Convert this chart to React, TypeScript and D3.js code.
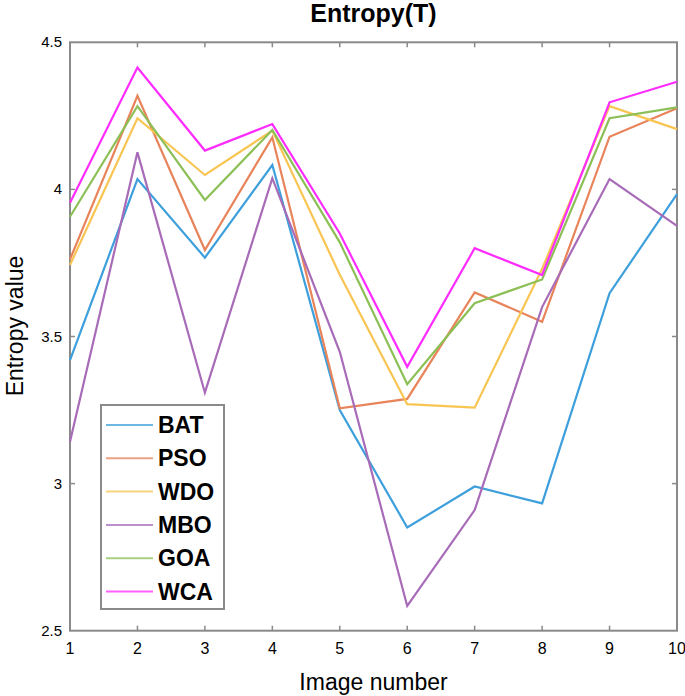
import React from "react";
import * as d3 from "d3";

const imageNumbers = [1, 2, 3, 4, 5, 6, 7, 8, 9, 10];
const seriesNames = ["BAT", "PSO", "WDO", "MBO", "GOA", "WCA"];
const BAT = [3.42, 4.035, 3.768, 4.083, 3.25, 2.851, 2.99, 2.933, 3.647, 3.984];
const PSO = [3.762, 4.318, 3.794, 4.177, 3.256, 3.288, 3.65, 3.55, 4.179, 4.276];
const WDO = [3.743, 4.242, 4.049, 4.2, 3.71, 3.27, 3.258, 3.73, 4.283, 4.205];
const MBO = [3.142, 4.126, 3.309, 4.038, 3.448, 2.584, 2.91, 3.6, 4.035, 3.876];
const GOA = [3.907, 4.283, 3.964, 4.202, 3.82, 3.338, 3.613, 3.694, 4.242, 4.279];
const WCA = [3.955, 4.414, 4.132, 4.222, 3.85, 3.397, 3.8, 3.709, 4.296, 4.366];
const yTicks = [2.5, 3, 3.5, 4, 4.5];
const colors = ["#3d9fdc", "#e8835a", "#f9c552", "#a86bb8", "#8dbf57", "#ff2cff"];

const allSeries = [BAT, PSO, WDO, MBO, GOA, WCA];

export default function App() {
  const left = 70, right = 677, top = 42.3, bottom = 630.7;
  const x = d3.scaleLinear().domain([1, 10]).range([left, right]);
  const y = d3.scaleLinear().domain([2.5, 4.5]).range([bottom, top]);
  const line = d3
    .line<number>()
    .x((_, i) => x(imageNumbers[i]))
    .y((d) => y(d));
  const axisColor = "#8a8a8a";
  const font = "Liberation Sans, Arial, Helvetica, sans-serif";
  const legendX = 101, legendY = 405, legendW = 123, legendH = 204;
  return (
    <svg
      width={685}
      height={696}
      style={{ position: "absolute", left: 0, top: 0, background: "#fff" }}
      fontFamily={font}
    >
      <rect x={0} y={0} width={685} height={696} fill="#fff" />
      <text x={(left + right) / 2} y={22} textAnchor="middle" fontWeight="bold" fontSize={25}>
        Entropy(T)
      </text>
      {/* axis box */}
      <rect x={left} y={top} width={right - left} height={bottom - top} fill="none" stroke={axisColor} strokeWidth={2} />
      {imageNumbers.map((n) => (
        <g key={n}>
          {n > 1 && n < 10 && (
            <>
              <line x1={x(n)} x2={x(n)} y1={bottom} y2={bottom - 5} stroke={axisColor} strokeWidth={1.5} />
              <line x1={x(n)} x2={x(n)} y1={top} y2={top + 5} stroke={axisColor} strokeWidth={1.5} />
            </>
          )}
          <text x={x(n)} y={654} textAnchor="middle" fontSize={16}>
            {n}
          </text>
        </g>
      ))}
      {yTicks.map((t) => (
        <g key={t}>
          {t > 2.5 && t < 4.5 && (
            <>
              <line x1={left} x2={left + 5} y1={y(t)} y2={y(t)} stroke={axisColor} strokeWidth={1.5} />
              <line x1={right} x2={right - 5} y1={y(t)} y2={y(t)} stroke={axisColor} strokeWidth={1.5} />
            </>
          )}
          <text x={left - 8} y={y(t) + 5} textAnchor="end" fontSize={15}>
            {String(t)}
          </text>
        </g>
      ))}
      <text x={(left + right) / 2} y={690} textAnchor="middle" fontSize={23}>
        Image number
      </text>
      <text
        transform={`translate(23, 326) rotate(-90)`}
        textAnchor="middle"
        fontSize={23}
      >
        Entropy value
      </text>
      {allSeries.map((s, i) => (
        <path key={i} d={line(s) || ""} fill="none" stroke={colors[i]} strokeWidth={2.2} strokeLinejoin="miter" />
      ))}
      {/* legend */}
      <rect x={legendX} y={legendY} width={legendW} height={legendH} fill="#fff" stroke={axisColor} strokeWidth={2} />
      {seriesNames.map((name, i) => {
        const ly = 425 + i * 33.3;
        return (
          <g key={name}>
            <line x1={106} x2={153} y1={ly} y2={ly} stroke={colors[i]} strokeWidth={2} opacity={0.75} />
            <text x={158} y={ly + 8} fontSize={23} fontWeight="bold">
              {name}
            </text>
          </g>
        );
      })}
    </svg>
  );
}
